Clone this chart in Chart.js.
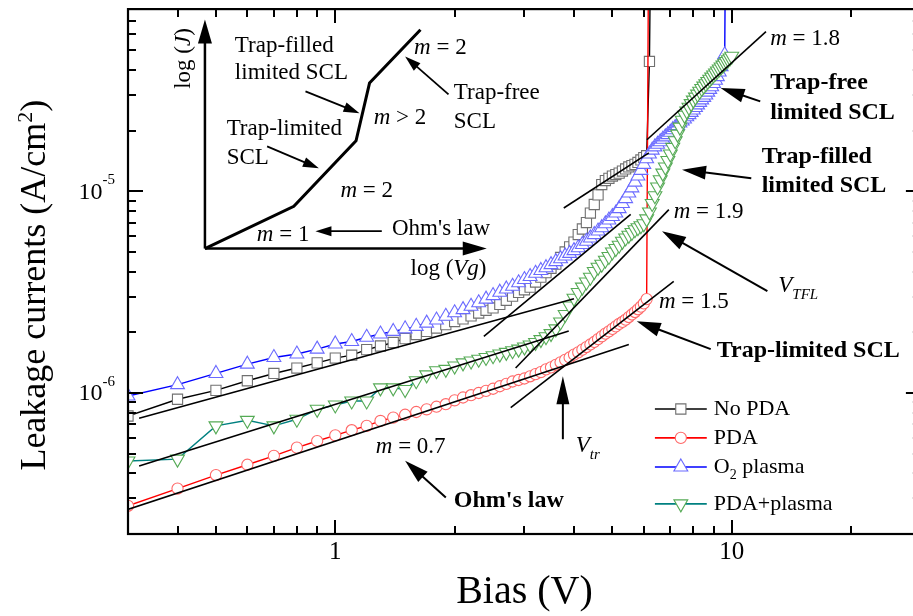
<!DOCTYPE html>
<html>
<head>
<meta charset="utf-8">
<style>
html, body { margin: 0; padding: 0; background: #fff; overflow: hidden; }
#wrap { width: 930px; height: 616px; }
</style>
<script src="https://cdn.jsdelivr.net/npm/chart.js@4.4.1/dist/chart.umd.min.js"></script>
</head>
<body>
<div id="wrap"><canvas id="chart" width="930" height="616"></canvas></div>
<script>
// bias voltages (V), 0.1 V steps as measured
const biasV = [0.3, 0.4, 0.5, 0.6, 0.7, 0.8, 0.9, 1.0, 1.1, 1.2,
    1.3, 1.4, 1.5, 1.6, 1.7, 1.8, 1.9, 2.0, 2.1, 2.2,
    2.3, 2.4, 2.5, 2.6, 2.7, 2.8, 2.9, 3.0, 3.1, 3.2,
    3.3, 3.4, 3.5, 3.6, 3.7, 3.8, 3.9, 4.0, 4.1, 4.2,
    4.3, 4.4, 4.5, 4.6, 4.7, 4.8, 4.9, 5.0, 5.1, 5.2,
    5.3, 5.4, 5.5, 5.6, 5.7, 5.8, 5.9, 6.0, 6.1, 6.2,
    6.3, 6.4, 6.5, 6.6, 6.7, 6.8, 6.9, 7.0, 7.1, 7.2,
    7.3, 7.4, 7.5, 7.6, 7.7, 7.8, 7.9, 8.0, 8.1, 8.2,
    8.3, 8.4, 8.5, 8.6, 8.7, 8.8, 8.9, 9.0, 9.1, 9.2,
    9.3, 9.4, 9.5, 9.6, 9.7, 9.8, 9.9, 10.0];

// leakage currents in uA/cm2 (last points = breakdown, off the top)
const UA = 1e-6;
const noPDA = [0.769, 0.931, 1.03, 1.15, 1.25, 1.33, 1.41, 1.49, 1.54, 1.64,
    1.71, 1.78, 1.86, 1.95, 2.02, 2.10, 2.18, 2.26, 2.33, 2.41,
    2.49, 2.57, 2.64, 2.75, 2.88, 3.02, 3.15, 3.25, 3.35, 3.55,
    3.75, 3.95, 4.15, 4.35, 4.70, 5.00, 5.30, 5.60, 6.10, 6.50,
    7.00, 7.80, 8.60, 9.60, 10.8, 11.3, 11.6, 11.9, 12.1, 12.3,
    12.6, 12.9, 13.2, 13.4, 13.6, 13.9, 14.3, 14.7, 15.0, 44.0,
    1000];
const pda = [0.276, 0.336, 0.392, 0.441, 0.488, 0.536, 0.578, 0.617, 0.654, 0.687,
    0.727, 0.755, 0.780, 0.805, 0.830, 0.855, 0.880, 0.920, 0.950, 0.975,
    1.00, 1.025, 1.05, 1.08, 1.11, 1.14, 1.16, 1.18, 1.21, 1.24,
    1.27, 1.31, 1.34, 1.38, 1.42, 1.46, 1.50, 1.55, 1.59, 1.64,
    1.69, 1.74, 1.79, 1.85, 1.91, 1.97, 2.02, 2.08, 2.14, 2.20,
    2.25, 2.31, 2.38, 2.45, 2.52, 2.60, 2.68, 2.78, 2.92, 1000];
const o2Plasma = [0.966, 1.10, 1.25, 1.39, 1.50, 1.56, 1.65, 1.75, 1.80, 1.89,
    1.96, 2.02, 2.08, 2.14, 2.22, 2.30, 2.40, 2.50, 2.59, 2.69,
    2.80, 2.92, 3.04, 3.16, 3.28, 3.38, 3.52, 3.65, 3.78, 3.92,
    4.05, 4.18, 4.33, 4.48, 4.63, 4.78, 4.92, 5.08, 5.25, 5.45,
    5.65, 5.87, 6.10, 6.35, 6.60, 6.90, 7.20, 7.50, 7.80, 8.20,
    8.70, 9.20, 9.80, 10.4, 11.1, 11.9, 12.7, 13.6, 14.5, 15.3,
    16.0, 16.6, 17.1, 17.6, 18.1, 18.6, 19.1, 19.6, 20.2, 20.7,
    21.2, 21.8, 22.3, 22.8, 23.4, 24.0, 24.6, 25.3, 26.0, 26.8,
    27.6, 28.4, 29.2, 30.0, 31.0, 32.0, 33.0, 34.2, 35.5, 37.0,
    39.0, 41.5, 44.5, 47.5, 1000];
const pdaPlasma = [0.460, 0.470, 0.687, 0.732, 0.687, 0.741, 0.830, 0.872, 0.913, 0.913,
    1.06, 1.06, 1.04, 1.15, 1.23, 1.29, 1.31, 1.36, 1.41, 1.44,
    1.47, 1.50, 1.53, 1.56, 1.59, 1.62, 1.65, 1.69, 1.73, 1.78,
    1.84, 1.90, 1.97, 2.08, 2.25, 2.45, 2.70, 2.95, 3.15, 3.35,
    3.55, 3.75, 4.00, 4.20, 4.35, 4.55, 4.75, 5.00, 5.20, 5.40,
    5.65, 5.87, 6.05, 6.25, 6.45, 6.60, 6.75, 6.90, 7.30, 7.90,
    8.70, 9.50, 10.5, 11.4, 12.3, 13.2, 14.2, 15.3, 16.5, 17.8,
    19.2, 20.8, 22.5, 23.8, 25.0, 26.1, 27.2, 28.3, 29.3, 30.3,
    31.3, 32.3, 33.2, 34.1, 35.0, 35.9, 36.8, 37.7, 38.6, 39.5,
    40.4, 41.3, 42.2, 43.1, 44.0, 44.9, 45.8, 46.7];

// power-law fit lines, [V, uA/cm2] end points
const fitLines = [
    [[0.32, 0.75], [4.0, 2.93]],
    [[2.37, 1.91], [5.56, 7.69]],
    [[3.77, 8.26], [6.18, 15.5]],
    [[6.11, 18.0], [12.2, 61.9]],
    [[0.32, 0.435], [3.88, 2.03]],
    [[2.85, 1.33], [6.94, 8.11]],
    [[0.293, 0.261], [5.5, 1.74]],
    [[2.77, 0.846], [7.14, 3.58]]
];

// inset sketch of log(J) vs log(Vg), placed in the main axes
const insetCurve = [[0.469, 5.20], [0.786, 8.43], [1.128, 17.8], [1.22, 34.4], [1.64, 63.2]];

const xTickLabels = [1, 10];
const yTickLabels = [1e-6, 1e-5];
const seriesNames = ['No PDA', 'PDA', 'O2 plasma', 'PDA+plasma'];

const SERIF = "'Liberation Serif', serif";
const R = '23px ' + SERIF, I = 'italic 23px ' + SERIF, B = 'bold 24px ' + SERIF;
const SUB = 'italic 15px ' + SERIF;

const seriesStyle = [
    { line: '#000000', marker: '#707070', shape: 'rect', r: 7.2, rot: 0 },
    { line: '#ff0000', marker: '#ff6868', shape: 'circle', r: 5.6, rot: 0 },
    { line: '#0000ff', marker: '#6a6aff', shape: 'triangle', r: 8, rot: 0 },
    { line: '#008080', marker: '#55aa55', shape: 'triangle', r: 8, rot: 180 }
];

function toPoints(vals) {
    return vals.map((v, i) => ({ x: biasV[i], y: v * UA }));
}

const datasets = [];
[noPDA, pda, o2Plasma, pdaPlasma].forEach((vals, i) => {
    const s = seriesStyle[i];
    datasets.push({
        label: seriesNames[i],
        data: toPoints(vals),
        showLine: true,
        borderColor: s.line,
        borderWidth: 1.4,
        pointStyle: s.shape,
        pointRotation: s.rot,
        pointRadius: s.r,
        pointBorderColor: s.marker,
        pointBackgroundColor: '#ffffff',
        pointBorderWidth: 1.1,
        order: 4 - i
    });
});
fitLines.forEach(seg => {
    datasets.push({
        data: seg.map(p => ({ x: p[0], y: p[1] * UA })),
        showLine: true, borderColor: '#000', borderWidth: 1.6, pointRadius: 0, order: 0
    });
});
datasets.push({
    data: insetCurve.map(p => ({ x: p[0], y: p[1] * UA })),
    showLine: true, borderColor: '#000', borderWidth: 3, pointRadius: 0, order: 0
});

// text annotations: anchor [V, uA/cm2], runs of [text, font, dy]
const labels = [
    { at: [0.558, 52.8], parts: [['Trap-filled', R]] },
    { at: [0.558, 38.4], parts: [['limited SCL', R]] },
    { at: [0.532, 20.3], parts: [['Trap-limited', R]] },
    { at: [0.532, 14.7], parts: [['SCL', R]] },
    { at: [1.25, 23.0], parts: [['m', I], [' > 2', R]] },
    { at: [1.03, 10.0], parts: [['m', I], [' = 2', R]] },
    { at: [0.634, 6.06], parts: [['m', I], [' = 1', R]] },
    { at: [1.39, 6.49], parts: [["Ohm's law", R]] },
    { at: [1.93, 4.11], parts: [['log (', R], ['Vg', I], [')', R]], align: 'center' },
    { at: [1.58, 51.6], parts: [['m', I], [' = 2', R]] },
    { at: [1.99, 30.6], parts: [['Trap-free', R]] },
    { at: [1.99, 22.0], parts: [['SCL', R]] },
    { at: [12.5, 57.2], parts: [['m', I], [' = 1.8', R]] },
    { at: [12.5, 34.6], parts: [['Trap-free', B]] },
    { at: [12.5, 24.6], parts: [['limited SCL', B]] },
    { at: [11.9, 14.9], parts: [['Trap-filled', B]] },
    { at: [11.9, 10.7], parts: [['limited SCL', B]] },
    { at: [7.14, 7.87], parts: [['m', I], [' = 1.9', R]] },
    { at: [13.1, 3.39], parts: [['V', I], ['TFL', SUB, 9]] },
    { at: [6.55, 2.82], parts: [['m', I], [' = 1.5', R]] },
    { at: [9.17, 1.61], parts: [['Trap-limited SCL', B]] },
    { at: [1.265, 0.540], parts: [['m', I], [' = 0.7', R]] },
    { at: [1.99, 0.292], parts: [["Ohm's law", B]] },
    { at: [4.04, 0.546], parts: [['V', I], ['tr', SUB, 9]] }
];

// arrows: from, to (head at 'to'), head length, head half width, line width
const arrows = [
    { from: [0.469, 5.20], to: [0.469, 71.0], len: 24, hw: 7, lw: 2.5 },
    { from: [0.469, 5.20], to: [2.41, 5.20], len: 24, hw: 7, lw: 2.5 },
    { from: [0.841, 31.3], to: [1.151, 24.4], len: 16, hw: 5, lw: 1.8 },
    { from: [0.673, 16.7], to: [0.909, 13.0], len: 16, hw: 5, lw: 1.8 },
    { from: [1.31, 6.34], to: [0.891, 6.34], len: 16, hw: 5, lw: 1.8 },
    { from: [1.93, 30.2], to: [1.50, 46.6], len: 16, hw: 5, lw: 1.8 },
    { from: [11.8, 27.9], to: [9.37, 32.5], len: 24, hw: 7, lw: 2 },
    { from: [11.2, 11.6], to: [7.49, 12.8], len: 24, hw: 7, lw: 2 },
    { from: [12.3, 3.20], to: [6.67, 6.34], len: 24, hw: 7, lw: 2 },
    { from: [8.85, 1.65], to: [5.76, 2.27], len: 24, hw: 7, lw: 2 },
    { from: [1.90, 0.303], to: [1.50, 0.461], len: 24, hw: 7, lw: 2 },
    { from: [3.75, 0.590], to: [3.75, 1.21], len: 28, hw: 6.5, lw: 2 }
];

// legend rows: y anchor (uA/cm2), line from/to and marker/text x anchors (V)
const legendY = [0.833, 0.599, 0.430, 0.282];
const legendLine = [6.40, 8.65];
const legendMarkX = 7.44;
const legendTextX = 9.01;

function drawRuns(ctx, x, y, parts, align) {
    let w = 0;
    parts.forEach(p => { ctx.font = p[1]; w += ctx.measureText(p[0]).width; });
    let cx = align === 'center' ? x - w / 2 : x;
    parts.forEach(p => {
        ctx.font = p[1];
        ctx.fillText(p[0], cx, y + (p[2] || 0));
        cx += ctx.measureText(p[0]).width;
    });
}

function drawArrow(ctx, x0, y0, x1, y1, len, hw, lw) {
    const ang = Math.atan2(y1 - y0, x1 - x0);
    const c = Math.cos(ang), s = Math.sin(ang);
    const bx = x1 - len * c, by = y1 - len * s;
    ctx.lineWidth = lw;
    ctx.beginPath(); ctx.moveTo(x0, y0); ctx.lineTo(bx + 2 * c, by + 2 * s); ctx.stroke();
    ctx.beginPath();
    ctx.moveTo(x1, y1);
    ctx.lineTo(bx + hw * s, by - hw * c);
    ctx.lineTo(bx - hw * s, by + hw * c);
    ctx.closePath(); ctx.fill();
}

function drawMarker(ctx, st, x, y) {
    ctx.beginPath();
    if (st.shape === 'rect') {
        const h = Math.SQRT1_2 * st.r;
        ctx.rect(x - h, y - h, 2 * h, 2 * h);
    } else if (st.shape === 'circle') {
        ctx.arc(x, y, st.r, 0, Math.PI * 2);
    } else {
        const sgn = st.rot ? -1 : 1;
        for (let k = 0; k < 3; k++) {
            const a = k * 2 * Math.PI / 3;
            const px = x + Math.sin(a) * st.r, py = y - sgn * Math.cos(a) * st.r;
            k ? ctx.lineTo(px, py) : ctx.moveTo(px, py);
        }
        ctx.closePath();
    }
    ctx.fillStyle = '#fff'; ctx.fill();
    ctx.strokeStyle = st.marker; ctx.lineWidth = 1.1; ctx.stroke();
}

const decorPlugin = {
    id: 'decor',
    beforeDraw(chart) {
        const ctx = chart.ctx;
        ctx.save(); ctx.fillStyle = '#fff';
        ctx.fillRect(0, 0, chart.width, chart.height); ctx.restore();
    },
    afterDraw(chart) {
        const { ctx, chartArea: a, scales } = chart;
        const xs = scales.x, ys = scales.y;
        const X = v => xs.getPixelForValue(v);
        const Y = j => ys.getPixelForValue(j * UA);
        ctx.save();
        ctx.strokeStyle = '#000'; ctx.fillStyle = '#000';
        ctx.lineCap = 'butt';

        // frame
        ctx.lineWidth = 2.2;
        ctx.strokeRect(a.left, a.top, a.right - a.left, a.bottom - a.top);

        // inward ticks on all four sides
        ctx.lineWidth = 2;
        for (let d = -1; d <= 1; d++) {
            for (let k = 1; k <= 9; k++) {
                const v = k * Math.pow(10, d);
                if (v < xs.min * 0.999 || v > xs.max * 1.001) continue;
                const px = Math.round(X(v)), len = k === 1 ? 14 : 8;
                ctx.beginPath();
                ctx.moveTo(px, a.bottom); ctx.lineTo(px, a.bottom - len);
                ctx.moveTo(px, a.top); ctx.lineTo(px, a.top + len);
                ctx.stroke();
            }
        }
        for (let d = -7; d <= -5; d++) {
            for (let k = 1; k <= 9; k++) {
                const v = k * Math.pow(10, d);
                if (v < ys.min * 1.001 || v > ys.max * 0.999) continue;
                const py = Math.round(ys.getPixelForValue(v)), len = k === 1 ? 15 : 8;
                ctx.beginPath();
                ctx.moveTo(a.left, py); ctx.lineTo(a.left + len, py);
                ctx.moveTo(a.right, py); ctx.lineTo(a.right - len, py);
                ctx.stroke();
            }
        }

        // y tick labels 10^-n
        ctx.textBaseline = 'middle';
        yTickLabels.forEach(v => {
            const py = ys.getPixelForValue(v);
            const expo = String(Math.round(Math.log10(v)));
            ctx.font = '15px ' + SERIF;
            const ew = ctx.measureText(expo).width;
            ctx.textAlign = 'left';
            ctx.fillText(expo, a.left - 13 - ew, py - 11);
            ctx.font = '24px ' + SERIF;
            ctx.textAlign = 'right';
            ctx.fillText('10', a.left - 13 - ew, py + 1);
        });

        // y axis title, rotated
        ctx.save();
        ctx.translate(36, a.top + 0.526 * (a.bottom - a.top));
        ctx.rotate(-Math.PI / 2);
        ctx.textAlign = 'left';
        drawRuns(ctx, 0, 0, [['Leakage currents (A/cm', '36px ' + SERIF],
            ['2', '22px ' + SERIF, -10], [')', '36px ' + SERIF]], 'center');
        ctx.restore();

        // arrows
        arrows.forEach(ar => {
            drawArrow(ctx, X(ar.from[0]), Y(ar.from[1]), X(ar.to[0]), Y(ar.to[1]), ar.len, ar.hw, ar.lw);
        });

        // labels
        ctx.textAlign = 'left';
        ctx.textBaseline = 'middle';
        labels.forEach(l => drawRuns(ctx, X(l.at[0]), Y(l.at[1]), l.parts, l.align));

        // rotated inset axis label
        ctx.save();
        ctx.translate(X(0.415), Y(45.5));
        ctx.rotate(-Math.PI / 2);
        drawRuns(ctx, 0, 0, [['log (', R], ['J', I], [')', R]], 'center');
        ctx.restore();

        // legend
        const lx0 = X(legendLine[0]), lx1 = X(legendLine[1]), mx = X(legendMarkX), tx = X(legendTextX);
        seriesStyle.forEach((st, i) => {
            const py = Y(legendY[i]);
            ctx.strokeStyle = st.line; ctx.lineWidth = 1.6;
            ctx.beginPath(); ctx.moveTo(lx0, py); ctx.lineTo(lx1, py); ctx.stroke();
            drawMarker(ctx, st, mx, py);
            ctx.fillStyle = '#000';
            if (i === 2) {
                drawRuns(ctx, tx, py, [['O', '22px ' + SERIF], ['2', '14px ' + SERIF, 8], [' plasma', '22px ' + SERIF]]);
            } else {
                drawRuns(ctx, tx, py, [[seriesNames[i], '22px ' + SERIF]]);
            }
        });
        ctx.restore();
    }
};

new Chart(document.getElementById('chart'), {
    type: 'scatter',
    data: { datasets: datasets },
    options: {
        responsive: false,
        animation: false,
        layout: { padding: { left: 0, top: 7, right: 8, bottom: 0 } },
        plugins: { legend: { display: false }, tooltip: { enabled: false } },
        scales: {
            x: {
                type: 'logarithmic', min: 0.3, max: 30,
                grid: { display: false, drawTicks: false },
                border: { display: false },
                afterBuildTicks: s => { s.ticks = xTickLabels.map(v => ({ value: v })); },
                afterFit: s => { s.height = 82; },
                ticks: {
                    autoSkip: false, maxRotation: 0, padding: 3, color: '#000',
                    font: { family: 'Liberation Serif', size: 25 },
                    callback: v => String(v)
                },
                title: {
                    display: true, text: 'Bias (V)', color: '#000',
                    font: { family: 'Liberation Serif', size: 40 },
                    padding: { top: 0, bottom: 0 }
                }
            },
            y: {
                type: 'logarithmic', min: 2e-7, max: 8e-5,
                grid: { display: false, drawTicks: false },
                border: { display: false },
                afterFit: s => { s.width = 128; },
                ticks: { display: false },
                title: { display: false }
            }
        }
    },
    plugins: [decorPlugin]
});
</script>
</body>
</html>
